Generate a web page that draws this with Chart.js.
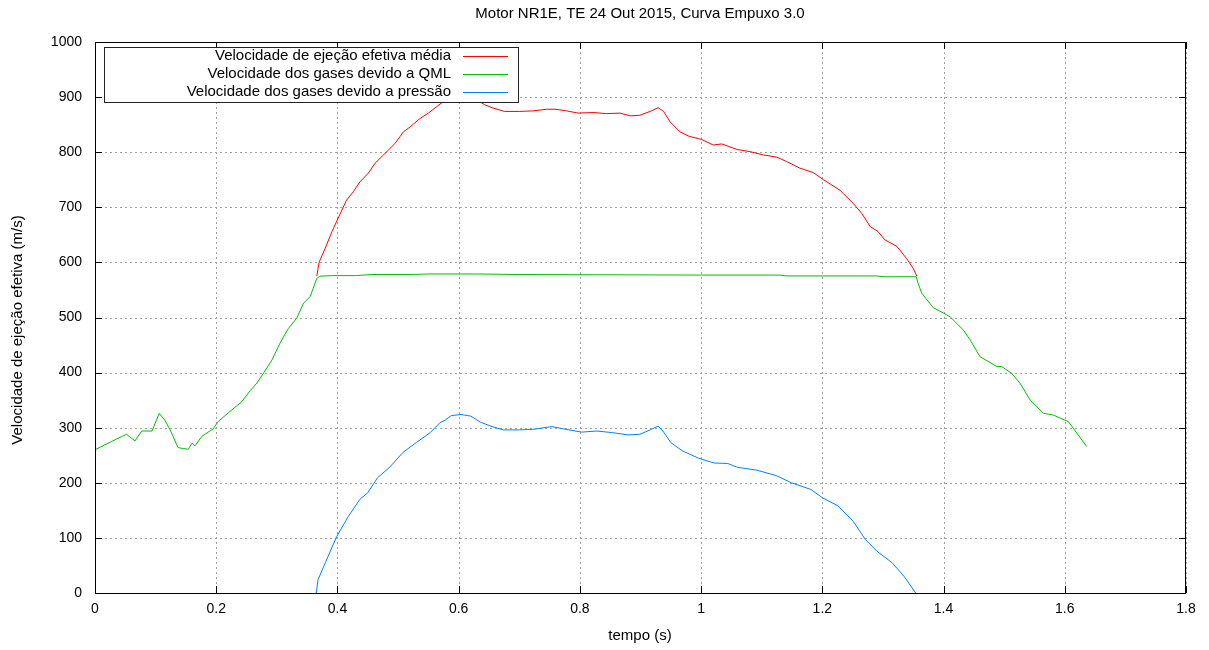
<!DOCTYPE html>
<html>
<head>
<meta charset="utf-8">
<script src="https://cdn.jsdelivr.net/npm/chart.js@4"></script>
<style>
  html, body { margin: 0; padding: 0; background: #fff; }
  canvas { display: block; }
</style>
</head>
<body>
<canvas id="chart" width="1209" height="650"></canvas>
<script>
const TITLE = 'Motor NR1E, TE 24 Out 2015, Curva Empuxo 3.0';
const X_TITLE = 'tempo (s)';
const Y_TITLE = 'Velocidade de ejeção efetiva (m/s)';
const LABELS = [
  'Velocidade de ejeção efetiva média',
  'Velocidade dos gases devido a QML',
  'Velocidade dos gases devido a pressão',
];
const COLORS = ['#ff0000', '#00c000', '#0080ff'];

// total (mean effective) exhaust velocity
const mediaT = [0.366, 0.368, 0.370, 0.380, 0.391, 0.401, 0.415, 0.426, 0.437, 0.451, 0.462, 0.476, 0.495, 0.509, 0.520,
  0.536, 0.550, 0.564, 0.575, 0.589, 0.597, 0.605, 0.619, 0.630, 0.643, 0.657, 0.676, 0.700, 0.723, 0.745, 0.759, 0.778,
  0.797, 0.822, 0.844, 0.866, 0.883, 0.899, 0.918, 0.929, 0.938, 0.949, 0.965, 0.980, 1.001, 1.020, 1.034, 1.059, 1.081,
  1.103, 1.125, 1.141, 1.163, 1.185, 1.202, 1.229, 1.251, 1.265, 1.279, 1.292, 1.303, 1.323, 1.339, 1.350, 1.356];
const mediaV = [575, 590, 601, 626, 656, 680, 713, 728, 746, 762, 780, 795, 816, 837, 846,
  861, 871, 883, 892, 901, 899, 903, 898, 895, 886, 880, 874, 874, 875, 878, 878, 875,
  871, 872, 870, 871, 866, 867, 875, 881, 874, 855, 837, 829, 823, 813, 815, 805, 801,
  795, 791, 783, 771, 763, 750, 731, 707, 689, 665, 656, 641, 629, 607, 589, 575];

// mass flow (QML) part
const qmlT = [0, 0.0275, 0.044, 0.052, 0.066, 0.077, 0.094, 0.106, 0.115, 0.124, 0.137, 0.146, 0.154, 0.16, 0.165, 0.176,
  0.195, 0.203, 0.220, 0.242, 0.256, 0.267, 0.278, 0.292, 0.305, 0.319, 0.333, 0.344, 0.355, 0.360, 0.366, 0.371,
  0.39, 0.43, 0.455, 0.52, 0.55, 0.63, 0.7, 1.0, 1.13, 1.14, 1.29, 1.30, 1.355,
  1.358, 1.364, 1.383, 1.400, 1.411, 1.433, 1.444, 1.460, 1.488, 1.496, 1.512, 1.526, 1.543, 1.565, 1.581, 1.606, 1.620, 1.636];
const qmlV = [260, 275, 284, 288, 276, 294, 294, 326, 314, 296, 264, 262, 261, 272, 267, 284,
  298, 311, 327, 347, 367, 381, 399, 423, 453, 480, 499, 526, 538, 553, 571, 575,
  576, 576, 578, 578, 579, 579, 578, 577, 577, 575.5, 575.5, 574, 574,
  562, 544, 518, 508, 501, 477, 459, 429, 411, 411, 399, 381, 350, 326, 323, 311, 290, 266];

// pressure part
const pressaoT = [0.365, 0.368, 0.380, 0.399, 0.418, 0.437, 0.450, 0.466, 0.485, 0.508, 0.530, 0.553, 0.569, 0.578, 0.588,
  0.604, 0.620, 0.636, 0.655, 0.674, 0.700, 0.722, 0.754, 0.777, 0.803, 0.828, 0.854, 0.879, 0.899, 0.918, 0.929, 0.937,
  0.950, 0.969, 0.995, 1.021, 1.044, 1.060, 1.092, 1.124, 1.149, 1.181, 1.200, 1.226, 1.251, 1.271, 1.290, 1.315, 1.335, 1.354];
const pressaoV = [0, 24, 55, 103, 139, 170, 182, 209, 227, 255, 273, 291, 309, 314, 322,
  324, 321, 310, 302, 296, 296, 297, 302, 297, 292, 294, 291, 287, 288, 297, 303, 294,
  273, 258, 245, 236, 235, 228, 223, 213, 200, 188, 173, 158, 130, 97, 76, 55, 30, 0];

const FONT = 'Liberation Sans, Arial, sans-serif';

function pts(ts, vs) {
  return ts.map((t, i) => ({ x: t, y: vs[i] }));
}

// dotted grid at every tick, drawn under the curves
const dottedGrid = {
  id: 'dottedGrid',
  beforeDatasetsDraw(chart) {
    const { ctx, chartArea: a, scales } = chart;
    ctx.save();
    ctx.strokeStyle = '#a0a0a0';
    ctx.lineWidth = 1;
    ctx.setLineDash([2, 3]);
    ctx.beginPath();
    for (const t of scales.x.ticks) {
      const px = Math.round(scales.x.getPixelForValue(t.value)) + 0.5;
      ctx.moveTo(px, a.top); ctx.lineTo(px, a.bottom);
    }
    for (const t of scales.y.ticks) {
      const py = Math.round(scales.y.getPixelForValue(t.value)) + 0.5;
      ctx.moveTo(a.left, py); ctx.lineTo(a.right, py);
    }
    ctx.stroke();
    ctx.restore();
  },
};

// frame, inward ticks on all four sides, legend and titles
const decor = {
  id: 'decor',
  afterDraw(chart) {
    const { ctx, chartArea: a, scales } = chart;
    const tl = 7;
    ctx.save();
    ctx.strokeStyle = '#000';
    ctx.lineWidth = 1;
    ctx.strokeRect(a.left + 0.5, a.top + 0.5, a.right - a.left - 1, a.bottom - a.top);
    ctx.beginPath();
    for (const t of scales.x.ticks) {
      const px = Math.round(scales.x.getPixelForValue(t.value)) + 0.5;
      ctx.moveTo(px, a.bottom); ctx.lineTo(px, a.bottom - tl);
      ctx.moveTo(px, a.top); ctx.lineTo(px, a.top + tl);
    }
    for (const t of scales.y.ticks) {
      const py = Math.round(scales.y.getPixelForValue(t.value)) + 0.5;
      ctx.moveTo(a.left, py); ctx.lineTo(a.left + tl, py);
      ctx.moveTo(a.right, py); ctx.lineTo(a.right - tl, py);
    }
    ctx.stroke();

    // legend box
    ctx.fillStyle = '#fff';
    ctx.fillRect(104, 47, 414, 55);
    ctx.strokeStyle = '#222';
    ctx.strokeRect(104.5, 47.5, 414, 55);
    ctx.font = '15px ' + FONT;
    ctx.textAlign = 'right';
    ctx.textBaseline = 'middle';
    chart.data.datasets.forEach((ds, i) => {
      const y = 56 + i * 18;
      ctx.fillStyle = '#000';
      ctx.fillText(ds.label, 451, y);
      ctx.strokeStyle = ds.borderColor;
      ctx.beginPath();
      ctx.moveTo(463, y + 0.5);
      ctx.lineTo(508, y + 0.5);
      ctx.stroke();
    });

    ctx.fillStyle = '#000';
    ctx.textAlign = 'center';
    ctx.fillText(TITLE, 640, 14);
    ctx.fillText(X_TITLE, 640, 636);
    ctx.translate(18, 330);
    ctx.rotate(-Math.PI / 2);
    ctx.fillText(Y_TITLE, 0, 0);
    ctx.restore();
  },
};

const gridOpts = { display: false, drawTicks: false };
const borderOpts = { display: false };

new Chart(document.getElementById('chart'), {
  type: 'scatter',
  data: {
    datasets: [
      { label: LABELS[0], data: pts(mediaT, mediaV), borderColor: COLORS[0], order: 3 },
      { label: LABELS[1], data: pts(qmlT, qmlV), borderColor: COLORS[1], order: 1 },
      { label: LABELS[2], data: pts(pressaoT, pressaoV), borderColor: COLORS[2], order: 2 },
    ].map((d) => Object.assign(d, { showLine: true, pointRadius: 0, borderWidth: 1, tension: 0, fill: false })),
  },
  options: {
    responsive: false,
    animation: false,
    devicePixelRatio: 1,
    layout: { padding: { top: 42, right: 23, left: 0, bottom: 0 } },
    plugins: { legend: { display: false }, tooltip: { enabled: false }, title: { display: false } },
    scales: {
      x: {
        type: 'linear', min: 0, max: 1.8,
        grid: gridOpts, border: borderOpts,
        ticks: {
          stepSize: 0.2, padding: 8, color: '#000', font: { family: FONT, size: 14 }, maxRotation: 0,
          callback: (v) => String(Math.round(v * 10) / 10),
        },
        afterFit(s) { s.height = 57; },
      },
      y: {
        min: 0, max: 1000,
        grid: gridOpts, border: borderOpts,
        ticks: {
          stepSize: 100, padding: 13, color: '#000', font: { family: FONT, size: 14 },
          callback: (v) => String(v),
        },
        afterFit(s) { s.width = 95; },
      },
    },
  },
  plugins: [dottedGrid, decor],
});
</script>
</body>
</html>
